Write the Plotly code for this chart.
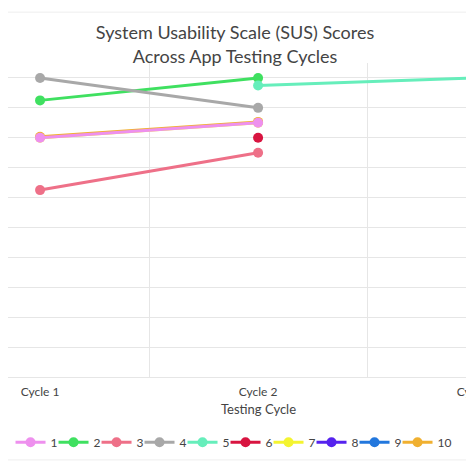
import plotly.graph_objects as go

# SUS scores per tester across the testing cycles
cycles = ['Cycle 1', 'Cycle 2', 'Cycle 3']
testers = ['1', '2', '3', '4', '5', '6', '7', '8', '9', '10']
sus_1 = [80, 85, None]
sus_2 = [92.5, 100, None]
sus_3 = [62.5, 75, None]
sus_4 = [100, 90, None]
sus_5 = [None, 97.5, 100]
sus_6 = [None, 80, None]
sus_7 = [80, 85, None]
sus_8 = [None, None, 92.5]
sus_9 = [None, None, 100]
sus_10 = [80.3, 85.3, None]

colors = ['#ee90ee', '#3fe060', '#ee7088', '#a8a8a8', '#66eebb',
          '#d81440', '#f4f430', '#5522ee', '#2277dd', '#f0b030']

scores = [sus_1, sus_2, sus_3, sus_4, sus_5, sus_6, sus_7, sus_8, sus_9, sus_10]

fig = go.Figure()

# draw order: the overlapped ones first so they peek out from below
draw_order = [8, 6, 9, 0, 1, 2, 3, 4, 5, 7]
for i in draw_order:
    fig.add_trace(go.Scatter(
        x=cycles, y=scores[i], name=testers[i],
        mode='lines+markers',
        line=dict(color=colors[i], width=3),
        marker=dict(size=10, color=colors[i]),
        cliponaxis=False,
        legendrank=i + 1,
        legendwidth=15 if len(testers[i]) > 1 else None,
    ))

font = 'Lato, Open Sans, sans-serif'

fig.update_layout(
    width=474, height=474,
    margin=dict(l=0, r=0, t=55, b=105),
    paper_bgcolor='white', plot_bgcolor='white',
    font=dict(family=font, color='#444', size=12),
    title=dict(text='System Usability Scale (SUS) Scores<br>Across App Testing Cycles',
               x=0.479, xanchor='center', y=0.934, yanchor='middle',
               font=dict(size=18, color='#444')),
    showlegend=True,
    legend=dict(orientation='h', x=0.48, xanchor='center',
                yref='container', y=0.084, yanchor='middle',
                entrywidth=1, indentation=-3, font=dict(size=12)),
)

fig.update_xaxes(type='category', categoryorder='array', categoryarray=cycles,
                 range=[-0.147, 2.027], tickson='boundaries', ticklabelstandoff=6,
                 automargin=False,
                 showgrid=True, gridcolor='#e6e6e6', ticks='', showline=False,
                 zeroline=False, tickfont=dict(size=12, color='#444'))
fig.add_annotation(text='Testing Cycle', x='Cycle 2', xref='x', y=-0.102,
                   yref='paper', showarrow=False, font=dict(size=13, color='#444'),
                   yanchor='middle')

fig.update_yaxes(range=[0, 105], dtick=10, showticklabels=False, automargin=False,
                 showgrid=True, gridcolor='#e6e6e6', zeroline=True,
                 zerolinecolor='#e6e6e6', zerolinewidth=1)

# faint frame lines above the title and below the legend
fig.add_shape(type='line', xref='paper', yref='paper', x0=0, x1=1, y0=1.162, y1=1.162,
              line=dict(color='#eeeeee', width=1))
fig.add_shape(type='line', xref='paper', yref='paper', x0=0, x1=1, y0=-0.264, y1=-0.264,
              line=dict(color='#eeeeee', width=1))

fig.write_html('out.html')
